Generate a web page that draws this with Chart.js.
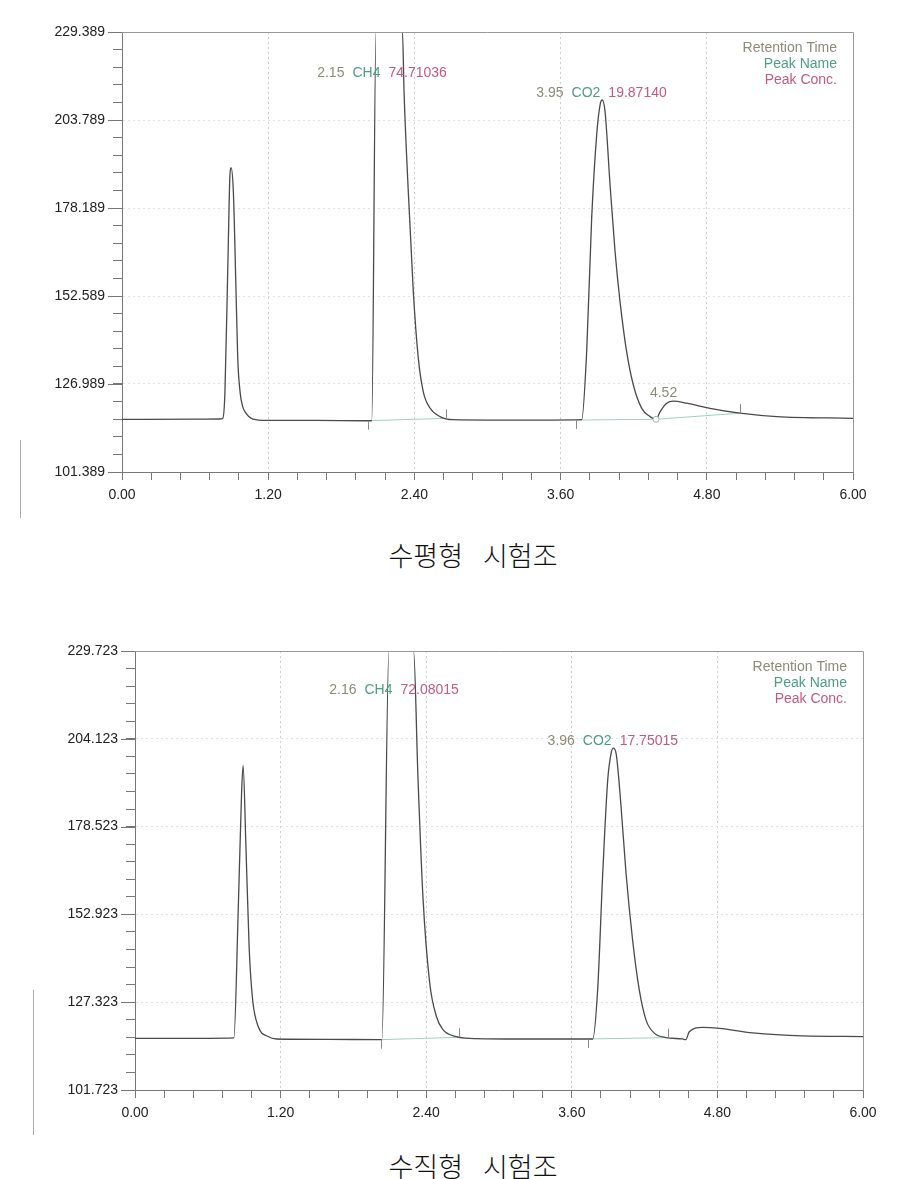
<!DOCTYPE html>
<html>
<head>
<meta charset="utf-8">
<script src="https://cdn.jsdelivr.net/npm/chart.js@4.4.1/dist/chart.umd.min.js"></script>
<style>
  body { margin: 0; background: #fff; width: 906px; height: 1179px; position: relative; overflow: hidden; }
  canvas { position: absolute; left: 0; }
  .title { position: absolute; left: 0; width: 946px; text-align: center; font-family: "Noto Sans CJK KR", sans-serif;
           font-size: 27px; font-weight: 300; line-height: 36px; color: #111; word-spacing: 14px; }
  .edge { position: absolute; width: 1px; background: #aaa; }
</style>
</head>
<body>
<canvas id="gc1" width="906" height="512" style="top:0"></canvas>
<div class="title" style="top:537px">수평형 시험조</div>
<canvas id="gc2" width="906" height="530" style="top:600px"></canvas>
<div class="title" style="top:1148px">수직형 시험조</div>
<div class="edge" style="left:20px; top:440px; height:78px"></div>
<div class="edge" style="left:33px; top:990px; height:145px"></div>
<script>
// x axis (retention time, min)
const xTickLabels = ['0.00', '1.20', '2.40', '3.60', '4.80', '6.00']

// chart 1 (수평형)
const yTickLabels1 = ['101.389', '126.989', '152.589', '178.189', '203.789', '229.389']
const times1 = [0.00, 0.60, 0.80, 0.827, 0.845, 0.870, 0.886, 0.895, 0.914, 0.936, 0.950, 0.969, 0.990, 1.010, 1.075, 1.188,
  1.60, 2.00, 2.05, 2.085, 2.302, 2.315, 2.350, 2.391, 2.432, 2.473, 2.528, 2.610, 2.717, 3.00, 3.50,
  3.773, 3.814, 3.855, 3.896, 3.924, 3.942, 3.965, 4.006, 4.047, 4.088, 4.142, 4.197, 4.266, 4.334, 4.383,
  4.416, 4.471, 4.525, 4.635, 4.826, 5.072, 5.374, 6.00]
const signal1 = [116.7, 116.75, 116.8, 117.0, 124.7, 163.6, 187.8, 189.9, 182.9, 153.8, 134.5, 124.7, 120.5, 118.9, 116.8, 116.4,
  116.4, 116.3, 116.3, 229.389, 229.389, 212.0, 182.9, 153.8, 134.5, 124.7, 120.0, 117.5, 116.6, 116.5, 116.5,
  116.6, 136.4, 175.2, 199.4, 208.2, 209.6, 206.2, 184.9, 165.5, 150.9, 136.4, 126.7, 119.9, 117.5, 116.72,
  118.9, 121.4, 122.0, 121.4, 119.9, 118.5, 117.5, 117.0]
const baseTimes1 = [[2.017, 2.66], [3.73, 4.383], [4.383, 5.072]]
const baseValues1 = [[116.3, 117.0], [116.5, 116.72], [116.72, 118.5]]
const eventTimes1 = [2.017, 2.66, 3.73, 5.072]
const eventValues1 = [116.3, 117.0, 116.5, 118.5]
const eventDirs1 = [-1, 1, -1, 1]
const dipTimes1 = [4.383]
const dipValues1 = [116.72]
const noteTimes1 = [2.134, 3.936, 4.445]
const noteValues1 = [217.55, 211.64, 124.37]
const noteRT1 = ['2.15', '3.95', '4.52']
const noteNames1 = ['CH4', 'CO2', '']
const noteConc1 = ['74.71036', '19.87140', '']

// chart 2 (수직형)
const yTickLabels2 = ['101.723', '127.323', '152.923', '178.523', '204.123', '229.723']
const times2 = [0.00, 0.60, 0.815, 0.850, 0.878, 0.891, 0.914, 0.941, 0.969, 1.015, 1.097, 1.166,
  1.60, 2.00, 2.035, 2.093, 2.296, 2.332, 2.373, 2.428, 2.483, 2.538, 2.648, 2.757, 3.20,
  3.772, 3.813, 3.855, 3.896, 3.924, 3.942, 3.965, 4.006, 4.047, 4.101, 4.156, 4.212, 4.280, 4.376,
  4.513, 4.540, 4.568, 4.678, 4.815, 5.089, 5.500, 6.00]
const signal2 = [116.8, 116.8, 116.9, 153.1, 187.9, 196.4, 173.0, 143.1, 128.2, 120.3, 117.3, 116.6,
  116.5, 116.4, 116.4, 229.723, 229.723, 192.9, 158.1, 133.2, 123.3, 119.3, 117.3, 116.8, 116.6,
  116.6, 130.9, 164.9, 192.1, 199.9, 201.4, 199.9, 184.3, 164.9, 145.5, 130.9, 122.1, 118.3, 117.0,
  116.6, 116.4, 118.7, 120.0, 119.7, 118.4, 117.5, 117.3]
const baseTimes2 = [[2.03, 2.67], [3.73, 4.39]]
const baseValues2 = [[116.4, 117.1], [116.6, 117.0]]
const eventTimes2 = [2.03, 2.67, 3.73, 4.39]
const eventValues2 = [116.4, 117.1, 116.6, 117.0]
const eventDirs2 = [-1, 1, -1, 1]
const noteTimes2 = [2.135, 3.938]
const noteValues2 = [218.35, 203.5]
const noteRT2 = ['2.16', '3.96']
const noteNames2 = ['CH4', 'CO2']
const noteConc2 = ['72.08015', '17.75015']

const legendLines = ['Retention Time', 'Peak Name', 'Peak Conc.']
const rtColor = '#8d8b78', nameColor = '#4e9e86', concColor = '#c25b7c'
const FONT = '"Liberation Sans", Arial, sans-serif'

// major ticks plus evenly spaced minor ticks between them
function buildTicks(labels, parts) {
  const majors = labels.map(Number)
  const out = []
  majors.forEach((m, i) => {
    out.push({ value: m, lbl: labels[i] })
    if (i < majors.length - 1) {
      const step = (majors[i + 1] - m) / parts
      for (let k = 1; k < parts; k++) out.push({ value: m + k * step, lbl: '' })
    }
  })
  return out
}

const decor = {
  id: 'decor',
  afterDraw(chart, args, o) {
    const { ctx, chartArea: a, scales: { x, y } } = chart
    ctx.save()
    ctx.lineWidth = 1
    // top and right frame
    ctx.strokeStyle = '#999'
    ctx.beginPath()
    ctx.moveTo(a.left, a.top + 0.5)
    ctx.lineTo(a.right + 0.5, a.top + 0.5)
    ctx.lineTo(a.right + 0.5, a.bottom)
    ctx.stroke()
    // longer major ticks on y
    ctx.strokeStyle = '#777'
    y.ticks.forEach((t) => {
      if (!t.lbl) return
      const py = Math.round(y.getPixelForValue(t.value)) + 0.5
      ctx.beginPath(); ctx.moveTo(a.left - 14, py); ctx.lineTo(a.left, py); ctx.stroke()
    })
    // integration event marks
    ctx.strokeStyle = '#8a8a8a'
    o.eventTimes.forEach((t, i) => {
      const px = Math.round(x.getPixelForValue(t)) + 0.5
      const py = y.getPixelForValue(o.eventValues[i])
      ctx.beginPath(); ctx.moveTo(px, py); ctx.lineTo(px, py - 9 * o.eventDirs[i]); ctx.stroke()
    })
    // peak annotations
    ctx.font = '14px ' + FONT
    ctx.textBaseline = 'middle'
    ctx.textAlign = 'left'
    o.noteTimes.forEach((t, i) => {
      const parts = [[o.noteRT[i], rtColor], [o.noteNames[i], nameColor], [o.noteConc[i], concColor]].filter(p => p[0])
      const gap = 8
      const total = parts.reduce((s, p) => s + ctx.measureText(p[0]).width, 0) + gap * (parts.length - 1)
      let px = x.getPixelForValue(t) - total / 2
      const py = y.getPixelForValue(o.noteValues[i])
      parts.forEach((p) => {
        ctx.fillStyle = p[1]
        ctx.fillText(p[0], px, py)
        px += ctx.measureText(p[0]).width + gap
      })
    })
    // legend, top right
    ctx.textAlign = 'right'
    const cols = [rtColor, nameColor, concColor]
    legendLines.forEach((s, i) => {
      ctx.fillStyle = cols[i]
      ctx.fillText(s, a.right - 16, a.top + 16 + i * 16)
    })
    ctx.restore()
  }
}

function makeChart(id, cfg) {
  const trace = cfg.times.map((t, i) => ({ x: t, y: cfg.signal[i] }))
  const datasets = [{
    data: trace, borderColor: '#4a4a4a', borderWidth: 1.3, pointRadius: 0,
    cubicInterpolationMode: 'monotone', order: 1
  }]
  cfg.baseTimes.forEach((seg, k) => {
    datasets.push({
      data: seg.map((t, i) => ({ x: t, y: cfg.baseValues[k][i] })),
      borderColor: '#9fd0c2', borderWidth: 1, pointRadius: 0, order: 2
    })
  })
  if (cfg.dipTimes) {
    datasets.push({
      data: cfg.dipTimes.map((t, i) => ({ x: t, y: cfg.dipValues[i] })),
      showLine: false, pointRadius: 3, pointBackgroundColor: '#fff', pointBorderColor: '#99b8ad',
      pointBorderWidth: 1, order: 0
    })
  }
  const yMin = Number(cfg.yLabels[0]), yMax = Number(cfg.yLabels[cfg.yLabels.length - 1])
  return new Chart(document.getElementById(id), {
    type: 'line',
    data: { datasets },
    options: {
      responsive: false,
      animation: false,
      layout: { padding: cfg.pad },
      plugins: {
        legend: { display: false },
        tooltip: { enabled: false },
        decor: {
          eventTimes: cfg.eventTimes, eventValues: cfg.eventValues, eventDirs: cfg.eventDirs,
          noteTimes: cfg.noteTimes, noteValues: cfg.noteValues,
          noteRT: cfg.noteRT, noteNames: cfg.noteNames, noteConc: cfg.noteConc
        }
      },
      scales: {
        x: {
          type: 'linear', min: 0, max: 6,
          afterBuildTicks: (s) => { s.ticks = buildTicks(xTickLabels, 5) },
          afterFit: (s) => { s.height = 30 },
          ticks: {
            callback: (v, i, t) => t[i].lbl, autoSkip: false, maxRotation: 0,
            font: { size: 14, family: FONT }, color: '#222', padding: 7
          },
          grid: {
            color: (c) => (c.tick && c.tick.lbl && c.index > 0 && c.index < 25) ? '#cfcfcf' : 'rgba(0,0,0,0)',
            tickColor: '#777', tickLength: 8
          },
          border: { color: '#777', dash: [2, 3] }
        },
        y: {
          type: 'linear', min: yMin, max: yMax,
          afterBuildTicks: (s) => { s.ticks = buildTicks(cfg.yLabels, 5) },
          afterFit: (s) => { s.width = cfg.leftW },
          ticks: {
            callback: (v, i, t) => t[i].lbl, autoSkip: false,
            font: { size: 14, family: FONT }, color: '#222', padding: 8
          },
          grid: {
            color: (c) => (c.tick && c.tick.lbl && c.index > 0 && c.index < 25) ? '#e2e2e2' : 'rgba(0,0,0,0)',
            tickColor: '#777', tickLength: 9
          },
          border: { color: '#777', dash: [2, 3] }
        }
      }
    },
    plugins: [decor]
  })
}

makeChart('gc1', {
  times: times1, signal: signal1, yLabels: yTickLabels1,
  baseTimes: baseTimes1, baseValues: baseValues1, dipTimes: dipTimes1, dipValues: dipValues1,
  eventTimes: eventTimes1, eventValues: eventValues1, eventDirs: eventDirs1,
  noteTimes: noteTimes1, noteValues: noteValues1, noteRT: noteRT1, noteNames: noteNames1, noteConc: noteConc1,
  pad: { top: 32, right: 53, bottom: 10, left: 0 }, leftW: 122
})

makeChart('gc2', {
  times: times2, signal: signal2, yLabels: yTickLabels2,
  baseTimes: baseTimes2, baseValues: baseValues2,
  eventTimes: eventTimes2, eventValues: eventValues2, eventDirs: eventDirs2,
  noteTimes: noteTimes2, noteValues: noteValues2, noteRT: noteRT2, noteNames: noteNames2, noteConc: noteConc2,
  pad: { top: 51, right: 43, bottom: 10, left: 0 }, leftW: 135
})
</script>
</body>
</html>
